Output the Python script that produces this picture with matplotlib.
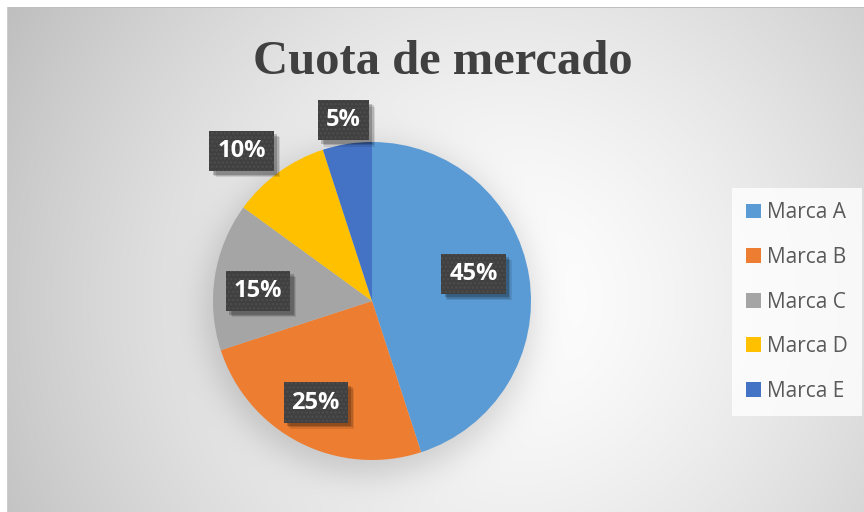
import numpy as np
import matplotlib.pyplot as plt
from matplotlib.patches import Patch
import matplotlib.patheffects as pe

# Data
brands = ["Marca A", "Marca B", "Marca C", "Marca D", "Marca E"]
shares = [45, 25, 15, 10, 5]
colors = ["#5B9BD5", "#ED7D31", "#A5A5A5", "#FFC000", "#4472C4"]
label_dist = [0.66, 0.73, 0.72, 1.25, 1.15]
label_turn = [6, -2, 4, 5, 0]


class PlainShadow(pe.SimplePatchShadow):
    # shadow without the hatch of the box
    def draw_path(self, renderer, gc, tpath, affine, rgbFace):
        gc0 = renderer.new_gc()
        gc0.copy_properties(gc)
        gc0.set_hatch(None)
        super().draw_path(renderer, gc0, tpath, affine, rgbFace)


W, H = 864, 512
fig = plt.figure(figsize=(W / 100, H / 100), dpi=100)

# background: radial gradient + soft pie shadow
bg = fig.add_axes([0, 0, 1, 1])
yy, xx = np.mgrid[0:H, 0:W] + 0.5
d = np.hypot(xx - 510, yy - 300) / 560
gray = 1.0 - 0.24 * np.clip(d, 0, 1.2) ** 1.4
sd = np.hypot(xx - 370, yy - 310)
gray -= 0.15 / (1 + np.exp((sd - 165) / 10))
img = np.dstack([gray] * 3)
img[:7, :] = 1.0
img[:, :7] = 1.0
img[7, 7:] = 0.75
img[7:, 7] = 0.8
bg.imshow(np.clip(img, 0, 1), extent=[0, W, H, 0], aspect="auto",
          interpolation="bilinear")
bg.set_xlim(0, W)
bg.set_ylim(H, 0)
bg.axis("off")

# title
fig.text(443 / W, 1 - 74 / H, "Cuota de mercado", ha="center", va="baseline",
         fontsize=35, fontweight="bold", family="Liberation Serif", color="#404040")

# pie
cx, cy, r = 372, 301, 159
ax = fig.add_axes([(cx - r) / W, (H - cy - r) / H, 2 * r / W, 2 * r / H])
wedges, _ = ax.pie(shares, colors=colors, startangle=90, counterclock=False,
                   radius=1, wedgeprops=dict(linewidth=0))
ax.set_xlim(-1, 1)
ax.set_ylim(-1, 1)
ax.set_aspect("equal")
ax.axis("off")

plt.rcParams["hatch.linewidth"] = 1.2
shadow = [PlainShadow(offset=(4.5, -4.5), shadow_rgbFace="black", alpha=0.1),
          PlainShadow(offset=(3.5, -3.5), shadow_rgbFace="black", alpha=0.15),
          PlainShadow(offset=(2.5, -2.5), shadow_rgbFace="black", alpha=0.2),
          pe.Normal()]
for w, dist, turn, v in zip(wedges, label_dist, label_turn, shares):
    ang = np.deg2rad((w.theta1 + w.theta2) / 2 + turn)
    x, y = dist * np.cos(ang), dist * np.sin(ang)
    t = ax.text(x, y, f"{v}%", ha="center", va="center", fontsize=17,
                fontweight="bold", family="Open Sans", color="white", zorder=5,
                bbox=dict(boxstyle="square,pad=0.34", facecolor="#404040",
                          edgecolor="#4D4D4D", linewidth=0, hatch="...."),
                clip_on=False)
    t.get_bbox_patch().set_path_effects(shadow)

# legend
handles = [Patch(facecolor=c, edgecolor="none") for c in colors]
leg = fig.legend(handles, brands, loc="center", bbox_to_anchor=(797 / W, 1 - 302 / H),
                 frameon=True, fancybox=False, prop=dict(family="Open Sans", size=15),
                 labelcolor="#595959", handlelength=0.7, handleheight=0.7,
                 handletextpad=0.3, labelspacing=1.13, borderpad=0.7, borderaxespad=0)
leg.get_frame().set_facecolor((1, 1, 1, 0.08))
leg.get_frame().set_edgecolor("none")

fig.savefig("out.png", dpi=100)
